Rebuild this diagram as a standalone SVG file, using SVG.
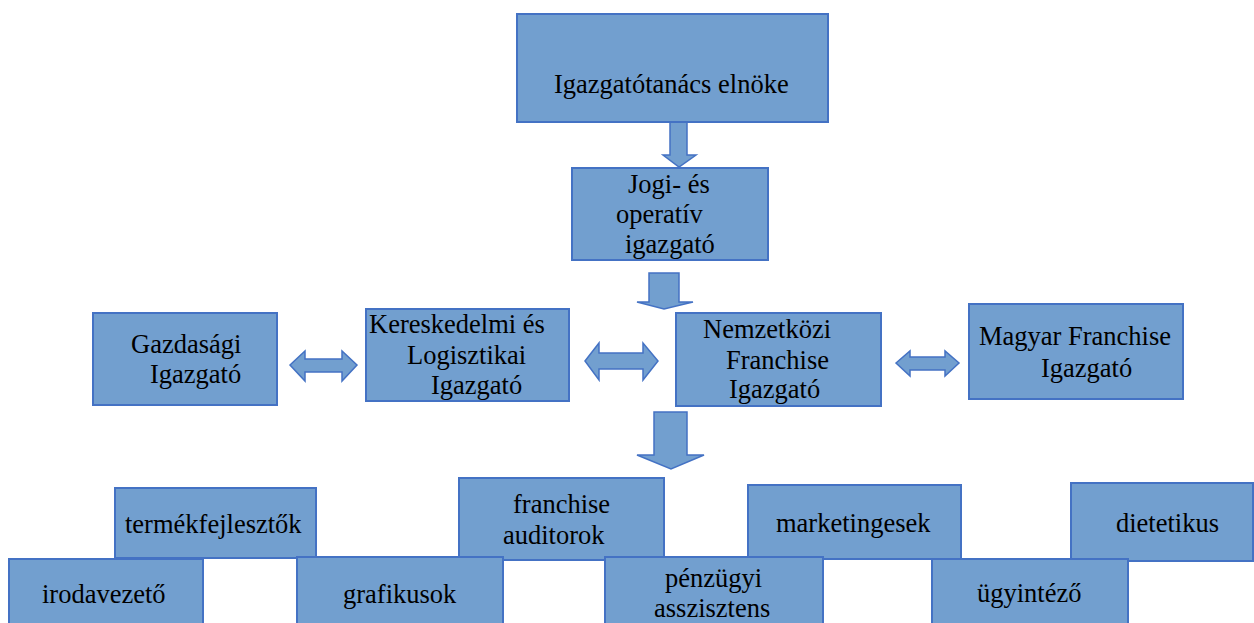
<svg xmlns="http://www.w3.org/2000/svg" width="1254" height="623" viewBox="0 0 1254 623">
<style>
.box{fill:#729fcf;stroke:#4472c4;stroke-width:2}
.arr{fill:#729fcf;stroke:#4472c4;stroke-width:1.5;stroke-linejoin:miter}
.t{font-family:'Liberation Serif','Times New Roman',serif;font-size:26.5px;fill:#000}
</style>
<rect width="1254" height="623" fill="#fff"/>
<g id="connectors">
<polygon class="arr" points="670,122 687,122 687,155 696,155 679,167 663,155 670,155"/>
<polygon class="arr" points="649,273 679,273 679,302 693,302 664,309 637,302 649,302"/>
<polygon class="arr" points="654,412 687,412 687,455 704,455 671,469 637,455 654,455"/>
<polygon class="arr" points="290,365 305,351 305,359 342,359 342,351 357,365 342,381 342,372 305,372 305,381"/>
<polygon class="arr" points="585,361 599,343 599,353 643,353 643,343 658,361 643,380 643,369 599,369 599,380"/>
<polygon class="arr" points="896,363 910,351 910,357 945,357 945,351 959,363 945,376 945,370 910,370 910,376"/>
</g>
<g class="t">
<g id="n-elnok"><rect class="box" x="517" y="14" width="311" height="108"/><text x="554" y="93">Igazgatótanács elnöke</text></g>
<g id="n-jogi"><rect class="box" x="572" y="168" width="196" height="92"/><text x="628" y="193">Jogi- és</text><text x="616" y="223">operatív</text><text x="625" y="253">igazgató</text></g>
<g id="n-gazd"><rect class="box" x="93" y="313" width="184" height="92"/><text x="131" y="353">Gazdasági</text><text x="150" y="383">Igazgató</text></g>
<g id="n-keres"><rect class="box" x="366" y="309" width="203" height="92"/><text x="369" y="333">Kereskedelmi és</text><text x="407" y="364">Logisztikai</text><text x="431" y="394">Igazgató</text></g>
<g id="n-nemz"><rect class="box" x="676" y="313" width="205" height="93"/><text x="703" y="338">Nemzetközi</text><text x="726" y="369">Franchise</text><text x="729" y="398">Igazgató</text></g>
<g id="n-magyar"><rect class="box" x="969" y="304" width="214" height="95"/><text x="979" y="345">Magyar Franchise</text><text x="1041" y="377">Igazgató</text></g>
<g id="n-termek"><rect class="box" x="115" y="488" width="201" height="70"/><text x="125" y="533">termékfejlesztők</text></g>
<g id="n-franch"><rect class="box" x="459" y="478" width="205" height="82"/><text x="513" y="513">franchise</text><text x="503" y="544">auditorok</text></g>
<g id="n-market"><rect class="box" x="748" y="485" width="213" height="74"/><text x="776" y="532">marketingesek</text></g>
<g id="n-diet"><rect class="box" x="1071" y="483" width="182" height="78"/><text x="1116" y="532">dietetikus</text></g>
<g id="n-iroda"><rect class="box" x="9" y="559" width="194" height="70"/><text x="42" y="603">irodavezető</text></g>
<g id="n-grafik"><rect class="box" x="297" y="557" width="206" height="72"/><text x="343" y="603">grafikusok</text></g>
<g id="n-penz"><rect class="box" x="605" y="557" width="218" height="72"/><text x="665" y="587">pénzügyi</text><text x="654" y="617">asszisztens</text></g>
<g id="n-ugy"><rect class="box" x="932" y="559" width="196" height="70"/><text x="977" y="602">ügyintéző</text></g>
</g>
</svg>
